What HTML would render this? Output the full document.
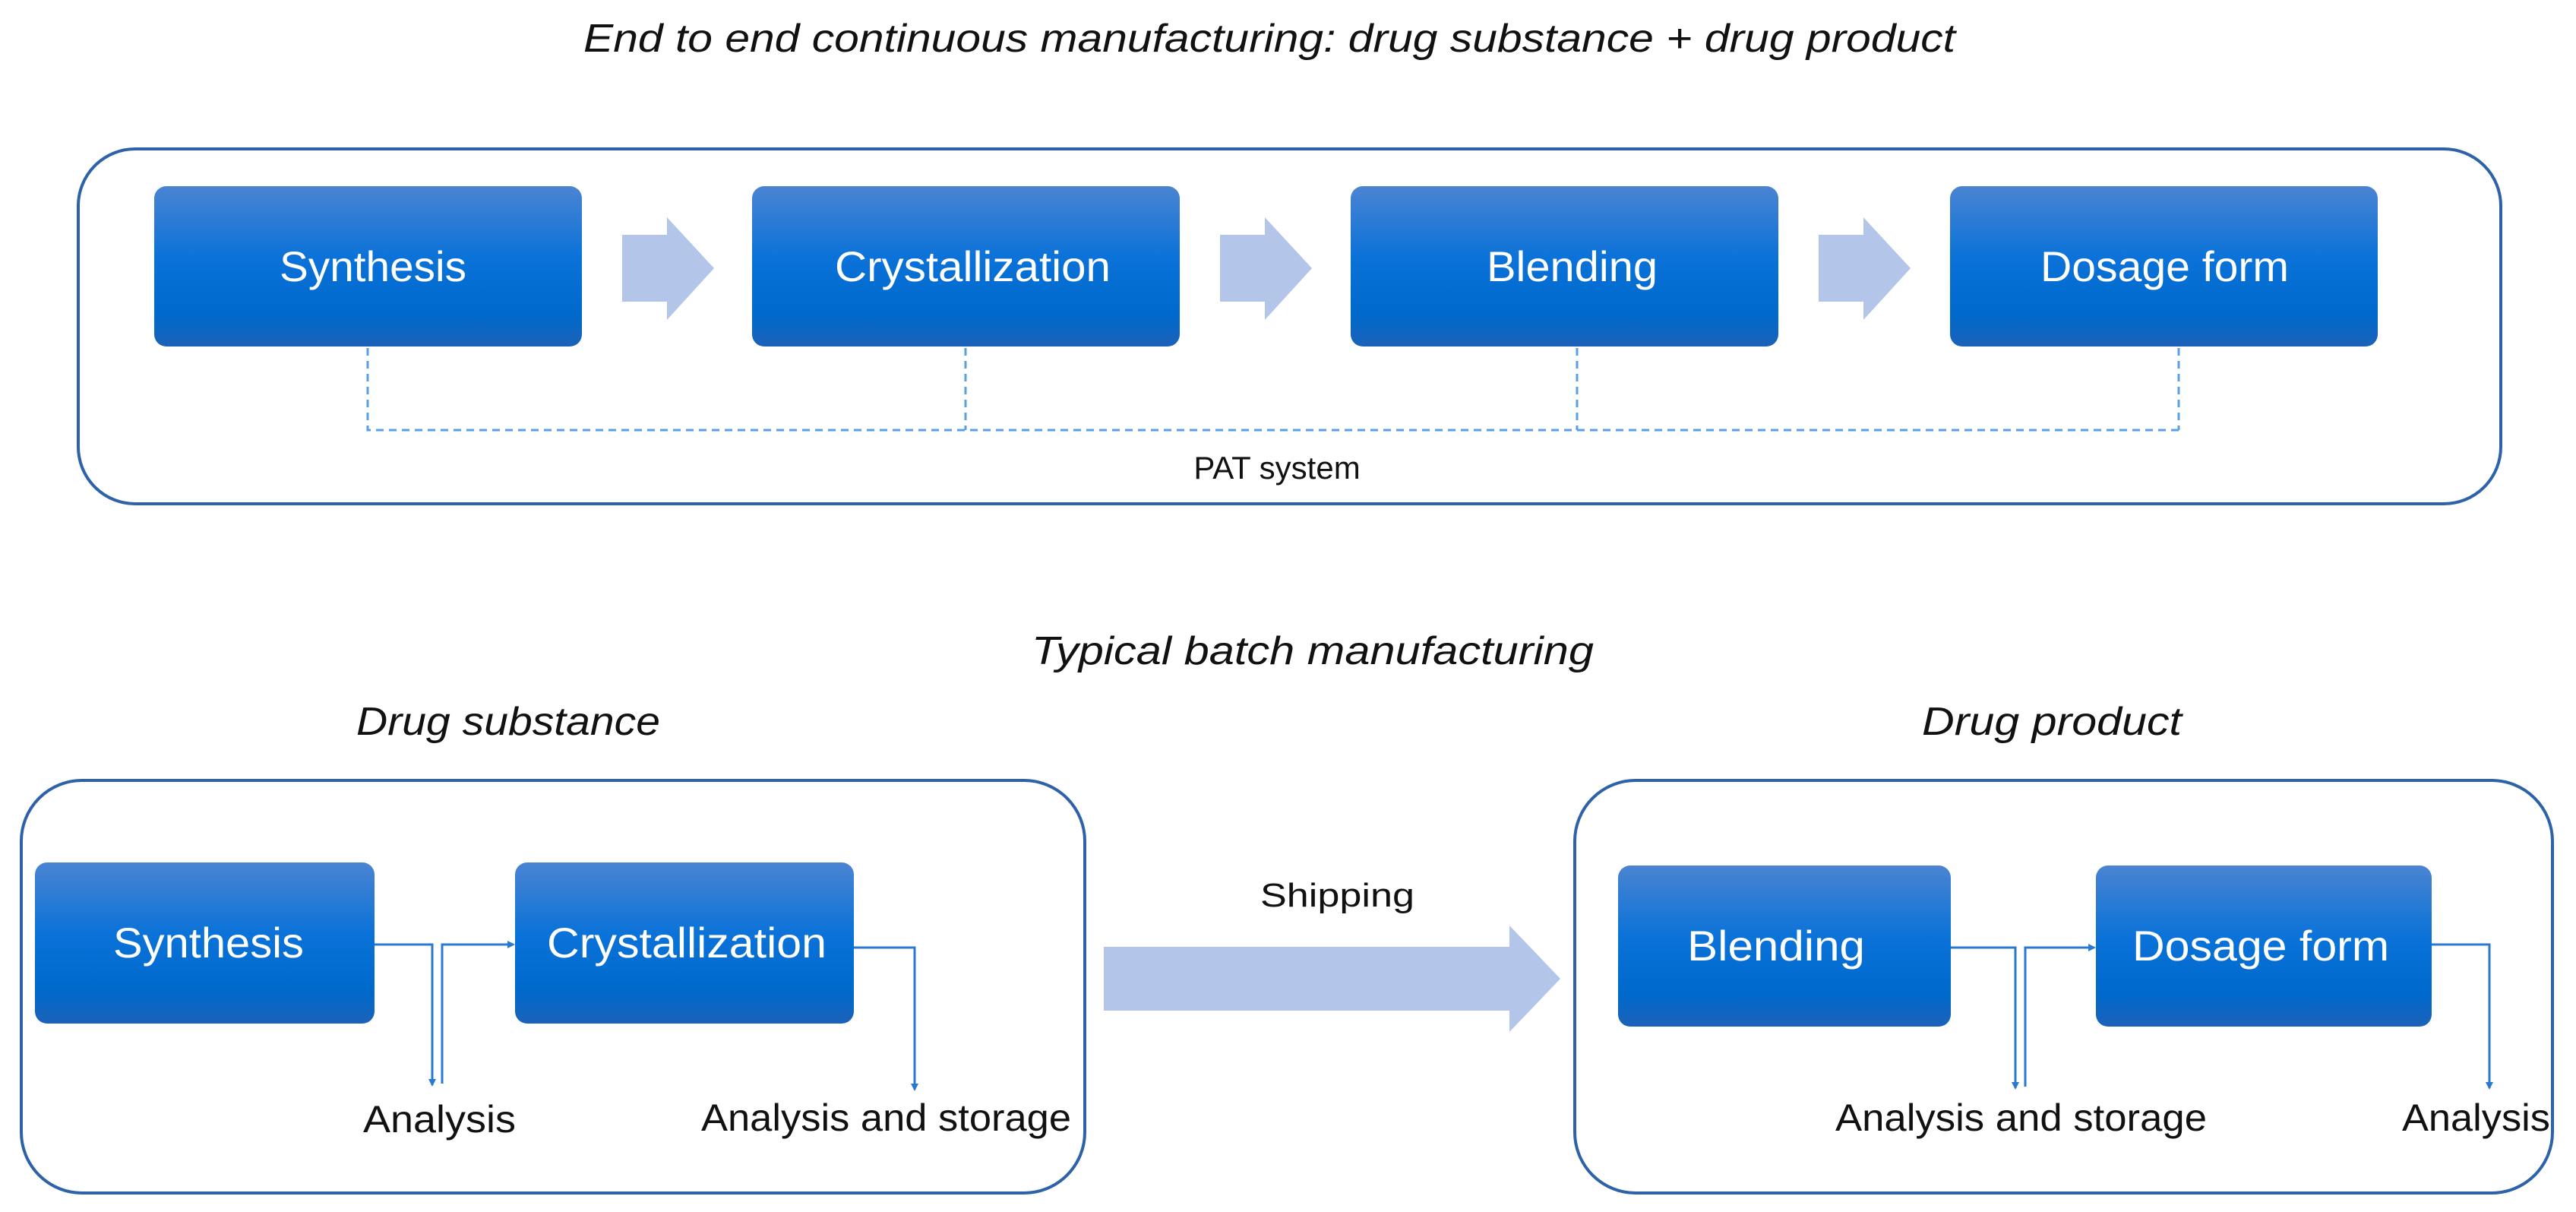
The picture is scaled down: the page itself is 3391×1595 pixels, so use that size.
<!DOCTYPE html>
<html><head><meta charset="utf-8"><style>
html,body{margin:0;padding:0;background:#fff;}
svg{display:block;}
text{font-family:"Liberation Sans",sans-serif;}
</style></head><body>
<svg width="3391" height="1595" viewBox="0 0 3391 1595" xmlns="http://www.w3.org/2000/svg">
<defs>
<linearGradient id="g" x1="0" y1="0" x2="0" y2="1">
<stop offset="0" stop-color="#4a84d2"/>
<stop offset="0.45" stop-color="#0a72d8"/>
<stop offset="0.8" stop-color="#0069cc"/>
<stop offset="1" stop-color="#1c62b8"/>
</linearGradient>
<marker id="ah" markerWidth="10" markerHeight="10" refX="8" refY="5" orient="auto" markerUnits="userSpaceOnUse" viewBox="0 0 10 10">
<path d="M0,0 L10,5 L0,10 z" fill="#2a78d0"/>
</marker>
</defs>

<text x="768" y="68" font-size="52" font-style="italic" fill="#111" textLength="1806" lengthAdjust="spacingAndGlyphs">End to end  continuous manufacturing: drug substance + drug product</text>

<rect x="103" y="196" width="3189" height="467" rx="75" fill="none" stroke="#2e62a8" stroke-width="4"/>

<g stroke="#5aa0e0" stroke-width="3" stroke-dasharray="10,7" fill="none">
<path d="M484 458 V566 H2868"/>
<path d="M1271 458 V566"/>
<path d="M2076 458 V566"/>
<path d="M2868 458 V566"/>
</g>
<text x="1681" y="630" font-size="42" fill="#111" text-anchor="middle">PAT system</text>

<g fill="#b3c5e8">
<path d="M819 309 H878 V286 L940 353 L878 421 V397 H819 z"/>
<path d="M1606 309 H1665 V286 L1727 353 L1665 421 V397 H1606 z"/>
<path d="M2394 309 H2453 V286 L2515 353 L2453 421 V397 H2394 z"/>
</g>

<g>
<rect x="203" y="245" width="563" height="211" rx="16" fill="url(#g)"/>
<rect x="990" y="245" width="563" height="211" rx="16" fill="url(#g)"/>
<rect x="1778" y="245" width="563" height="211" rx="16" fill="url(#g)"/>
<rect x="2567" y="245" width="563" height="211" rx="16" fill="url(#g)"/>
</g>
<g font-size="56" fill="#fff">
<text x="368" y="370" textLength="246" lengthAdjust="spacingAndGlyphs">Synthesis</text>
<text x="1099" y="370" textLength="363" lengthAdjust="spacingAndGlyphs">Crystallization</text>
<text x="1957" y="370" textLength="225" lengthAdjust="spacingAndGlyphs">Blending</text>
<text x="2686" y="370" textLength="327" lengthAdjust="spacingAndGlyphs">Dosage form</text>
</g>

<text x="1358" y="874" font-size="52" font-style="italic" fill="#111" textLength="740" lengthAdjust="spacingAndGlyphs">Typical batch manufacturing</text>
<text x="469" y="967" font-size="52" font-style="italic" fill="#111" textLength="400" lengthAdjust="spacingAndGlyphs">Drug substance</text>
<text x="2530" y="967" font-size="52" font-style="italic" fill="#111" textLength="342" lengthAdjust="spacingAndGlyphs">Drug product</text>

<rect x="28" y="1027" width="1400" height="543" rx="80" fill="none" stroke="#2e62a8" stroke-width="4"/>
<rect x="2073" y="1027" width="1287" height="543" rx="80" fill="none" stroke="#2e62a8" stroke-width="4"/>

<rect x="46" y="1135" width="447" height="212" rx="16" fill="url(#g)"/>
<rect x="678" y="1135" width="446" height="212" rx="16" fill="url(#g)"/>
<rect x="2130" y="1139" width="438" height="212" rx="16" fill="url(#g)"/>
<rect x="2759" y="1139" width="442" height="212" rx="16" fill="url(#g)"/>
<g font-size="56" fill="#fff">
<text x="149" y="1260" textLength="251" lengthAdjust="spacingAndGlyphs">Synthesis</text>
<text x="720" y="1260" textLength="368" lengthAdjust="spacingAndGlyphs">Crystallization</text>
<text x="2221" y="1264" textLength="234" lengthAdjust="spacingAndGlyphs">Blending</text>
<text x="2807" y="1264" textLength="338" lengthAdjust="spacingAndGlyphs">Dosage form</text>
</g>

<g stroke="#2a78d0" stroke-width="3" fill="none">
<path d="M493 1243 H569 V1428" marker-end="url(#ah)"/>
<path d="M582 1426 V1243 H676" marker-end="url(#ah)"/>
<path d="M1124 1247 H1204 V1434" marker-end="url(#ah)"/>
<path d="M2568 1247 H2653 V1432" marker-end="url(#ah)"/>
<path d="M2666 1430 V1247 H2757" marker-end="url(#ah)"/>
<path d="M3201 1243 H3277 V1432" marker-end="url(#ah)"/>
</g>

<g font-size="50" fill="#111">
<text x="478" y="1490" textLength="201" lengthAdjust="spacingAndGlyphs">Analysis</text>
<text x="923" y="1488" textLength="487" lengthAdjust="spacingAndGlyphs">Analysis and storage</text>
<text x="2416" y="1488" textLength="489" lengthAdjust="spacingAndGlyphs">Analysis and storage</text>
<text x="3162" y="1488" textLength="195" lengthAdjust="spacingAndGlyphs">Analysis</text>
</g>

<path d="M1453 1246 H1987 V1218 L2054 1288 L1987 1358 V1330 H1453 z" fill="#b3c5e8"/>
<text x="1659" y="1193" font-size="44" fill="#111" textLength="203" lengthAdjust="spacingAndGlyphs">Shipping</text>
</svg>
</body></html>
